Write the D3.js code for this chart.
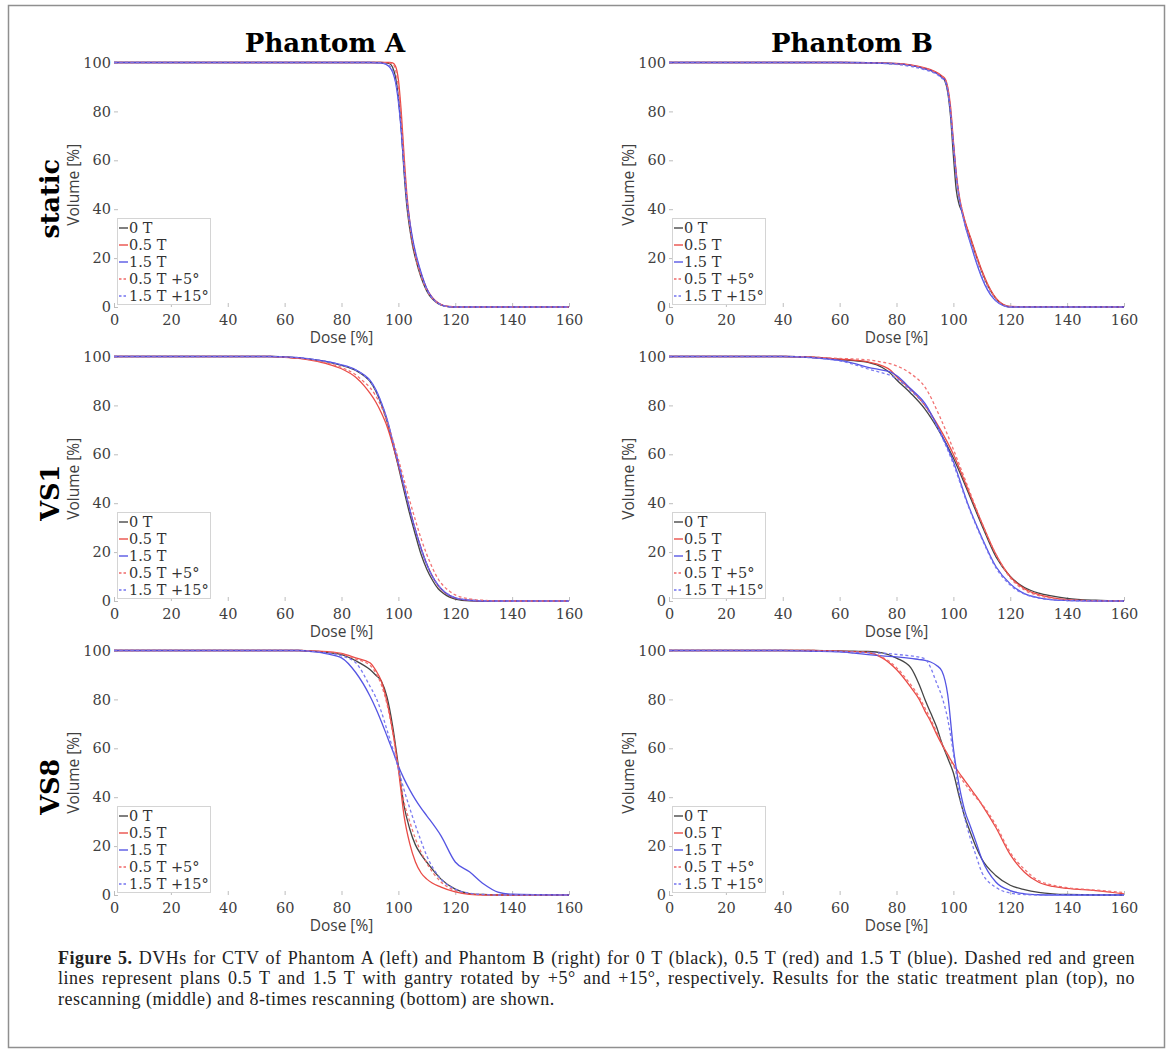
<!DOCTYPE html>
<html>
<head>
<meta charset="utf-8">
<script src="https://cdn.jsdelivr.net/npm/d3@7"></script>
<style>
  html, body { margin: 0; padding: 0; background: #fff; }
  svg { display: block; }
</style>
</head>
<body>
<div id="outer"></div>
<script>
////////// DATA //////////
const phantoms = ['Phantom A', 'Phantom B'];
const scenarios = ['static', 'VS1', 'VS8'];
const seriesNames = ['0 T', '0.5 T', '1.5 T', '0.5 T +5°', '1.5 T +15°'];
const doseTicks = [0, 20, 40, 60, 80, 100, 120, 140, 160];
const volumeTicks = [0, 20, 40, 60, 80, 100];

// static, Phantom A
const doseStaticA = [0, 90, 94, 96, 97, 98, 99, 100, 101, 102, 103, 104, 105, 106, 108, 110, 112, 114, 116, 118, 120, 160];
const staticA_0T = [100, 100, 100, 99.8, 99.5, 98, 94, 86, 73, 55, 41, 32, 25, 20, 12, 6.5, 3.2, 1.4, 0.5, 0.1, 0, 0];
const staticA_05T = [100, 100, 100, 100, 100, 99.8, 98.5, 93, 80, 62, 46, 35, 27, 21.5, 13.5, 7.5, 3.8, 1.7, 0.6, 0.2, 0, 0];
const staticA_15T = [100, 100, 99.8, 99, 98, 96, 92, 84, 72, 57, 44, 35, 28, 22.5, 14, 7.5, 3.6, 1.5, 0.5, 0.1, 0, 0];
const staticA_05T5 = [100, 100, 100, 99.9, 99.8, 99.5, 97, 90, 77, 59, 44, 33, 26, 20.5, 12.5, 6.8, 3.4, 1.5, 0.5, 0.1, 0, 0];
const staticA_15T15 = [100, 100, 99.9, 99.2, 98.5, 96.5, 92.5, 85, 73, 57, 43, 34, 27, 22, 13.5, 7.2, 3.5, 1.5, 0.5, 0.1, 0, 0];

// static, Phantom B
const doseStaticB = [0, 60, 70, 80, 85, 90, 93, 95, 96, 97, 98, 99, 100, 101, 102, 103, 104, 106, 108, 110, 112, 114, 116, 118, 120, 160];
const staticB_0T = [100, 100, 99.9, 99.5, 98.8, 97.5, 96.3, 95, 94, 92.5, 88, 78, 62, 48, 42, 39, 35, 28, 21, 14.5, 9, 5, 2.2, 0.7, 0.1, 0];
const staticB_05T = [100, 100, 99.9, 99.6, 99, 97.8, 96.6, 95.4, 94.5, 93.5, 90, 82, 68, 55, 46, 40, 35.5, 28.5, 21.5, 15, 9.5, 5.2, 2.4, 0.8, 0.2, 0];
const staticB_15T = [100, 100, 99.9, 99.5, 98.8, 97.4, 96.2, 94.8, 93.8, 93, 89, 80, 67, 54, 45, 39, 34, 26, 18.5, 12, 7, 3.6, 1.5, 0.4, 0, 0];
const staticB_05T5 = [100, 100, 99.9, 99.5, 98.9, 97.6, 96.4, 95.2, 94.2, 93.5, 89.5, 81, 67, 54, 45.5, 40, 35, 28, 21, 14.5, 9, 5, 2.2, 0.7, 0.1, 0];
const staticB_15T15 = [100, 100, 99.8, 99.2, 98.4, 97, 95.8, 94.5, 93.5, 92.5, 88.5, 79, 66, 53.5, 45, 39, 34, 26.5, 19, 12.5, 7.5, 3.8, 1.6, 0.5, 0, 0];

// VS1 (no rescanning), Phantom A
const doseVS1A = [0, 50, 55, 60, 65, 70, 75, 80, 85, 88, 90, 92, 94, 96, 98, 100, 102, 104, 106, 108, 110, 112, 114, 116, 118, 120, 125, 130, 135, 140, 160];
const vs1A_0T = [100, 100, 100, 99.8, 99.4, 98.7, 97.8, 96.4, 94.3, 92, 89.8, 86, 80.5, 73.5, 64.5, 55, 45, 35.5, 27, 19, 13, 8.5, 5, 3, 1.6, 0.8, 0.1, 0, 0, 0, 0];
const vs1A_05T = [100, 100, 100, 99.7, 99.2, 98.3, 97, 95, 91.5, 88, 85, 81.5, 77, 71.5, 64, 55.5, 46.5, 37.5, 29, 21.5, 15, 10, 6.2, 3.8, 2.2, 1.2, 0.3, 0, 0, 0, 0];
const vs1A_15T = [100, 100, 100, 99.8, 99.5, 98.8, 97.9, 96.6, 94.6, 92.4, 90.3, 86.6, 81.2, 74.5, 65.5, 56.5, 47, 37.5, 29, 21.5, 15, 10, 6.5, 4, 2.3, 1.3, 0.3, 0, 0, 0, 0];
const vs1A_05T5 = [100, 100, 100, 99.7, 99.3, 98.5, 97.3, 95.5, 92.5, 89.5, 87.3, 84, 79.5, 73.5, 66, 58, 49.5, 41, 33, 25.5, 19, 13.5, 9, 6, 4, 2.5, 0.9, 0.3, 0.05, 0, 0];
const vs1A_15T15 = [100, 100, 100, 99.8, 99.5, 98.8, 97.9, 96.5, 94.4, 92.2, 90, 86.3, 81, 74.2, 65.3, 56.2, 46.8, 37.5, 29, 21.5, 15, 10, 6.5, 4, 2.4, 1.4, 0.4, 0.1, 0, 0, 0];

// VS1 (no rescanning), Phantom B
const doseVS1B = [0, 40, 50, 60, 65, 70, 75, 78, 80, 85, 90, 95, 100, 105, 110, 115, 120, 125, 130, 135, 140, 150, 160];
const vs1B_0T = [100, 100, 99.7, 98.8, 98.3, 97.6, 95.5, 93, 90.5, 85, 78.5, 69.5, 58.5, 45, 31, 18, 10, 5.5, 3.2, 2, 1.1, 0.3, 0];
const vs1B_05T = [100, 100, 99.7, 98.9, 98.5, 97.8, 96.2, 94.3, 91.8, 86.5, 80, 71, 60, 46, 32, 19, 10, 5, 2.6, 1.3, 0.6, 0.1, 0];
const vs1B_15T = [100, 100, 99.6, 98.4, 97.2, 95.6, 94.4, 93.6, 92.2, 86.8, 80.8, 70, 57, 40, 26, 14, 7, 3, 1.3, 0.5, 0.2, 0, 0];
const vs1B_05T5 = [100, 100, 99.8, 99.2, 99, 98.6, 97.7, 97, 96.2, 93, 87.5, 76, 62, 47, 32, 19, 9.5, 4.5, 2.2, 1, 0.5, 0.1, 0];
const vs1B_15T15 = [100, 100, 99.5, 98.2, 96.8, 94.9, 93.3, 92.2, 91, 86, 80, 69.5, 56, 39.5, 25.5, 13.5, 6.5, 2.8, 1.2, 0.5, 0.2, 0, 0];

// VS8 (8-times rescanning), Phantom A
const doseVS8A = [0, 60, 65, 70, 75, 80, 85, 90, 92, 94, 96, 98, 100, 102, 104, 106, 108, 110, 115, 120, 125, 130, 135, 140, 150, 160];
const vs8A_0T = [100, 100, 100, 99.7, 99.2, 98.3, 95.8, 92.2, 90, 87.5, 81, 69, 52.8, 36.5, 27, 20.5, 16.5, 13.4, 6.5, 2.4, 0.6, 0.2, 0, 0, 0, 0];
const vs8A_05T = [100, 100, 100, 99.8, 99.5, 98.8, 97, 95, 92, 87.5, 79, 67, 51.5, 32.4, 21, 13.5, 9, 6.5, 3.2, 1.3, 0.3, 0, 0, 0, 0, 0];
const vs8A_15T = [100, 100, 100, 99.5, 98.6, 97, 91, 81.4, 76.5, 71, 65, 59, 52.8, 47.5, 43, 39, 35.5, 32.4, 24.2, 13.5, 9.5, 4.5, 1.2, 0.3, 0.1, 0];
const vs8A_05T5 = [100, 100, 100, 99.8, 99.4, 98.6, 96.5, 94, 91, 86, 78, 66.5, 51.5, 38, 30, 23, 17.5, 13, 5.3, 1.8, 0.5, 0.1, 0, 0, 0, 0];
const vs8A_15T15 = [100, 100, 100, 99.6, 99, 97.8, 95, 85.4, 81, 75, 67.5, 60, 51.5, 43, 35.5, 28.5, 22, 16, 6.5, 2.4, 0.7, 0.2, 0, 0, 0, 0];

// VS8 (8-times rescanning), Phantom B
const doseVS8B = [0, 40, 50, 60, 65, 70, 75, 80, 85, 88, 90, 92, 94, 96, 98, 100, 102, 104, 106, 108, 110, 115, 120, 125, 130, 135, 140, 150, 160];
const vs8B_0T = [100, 100, 100, 99.8, 99.7, 99.6, 99, 96.9, 93, 86, 80, 74.5, 69, 62, 56, 50, 40.5, 32, 25.5, 19.5, 14.7, 7.9, 4, 2.2, 1.1, 0.5, 0.2, 0, 0];
const vs8B_05T = [100, 100, 100, 99.7, 99.5, 99.1, 97, 92.2, 85, 80, 75.2, 71, 66, 61.5, 57.5, 53.5, 50, 46.8, 43.6, 40.4, 37, 27.5, 16.5, 9.3, 5.2, 3.5, 2.7, 1.8, 0.5];
const vs8B_15T = [100, 100, 99.7, 99.4, 98.9, 98.3, 97.8, 97.4, 96.8, 96.3, 96, 95.3, 94, 91.5, 82, 60, 45, 34.5, 28, 21.5, 14.7, 5.2, 1.8, 0.5, 0.1, 0, 0, 0, 0];
const vs8B_05T5 = [100, 100, 100, 99.7, 99.5, 99.3, 97.3, 93, 86, 81, 76.5, 72, 67, 62, 57, 52.8, 49, 45.6, 42.5, 39.8, 37.2, 28.5, 17.4, 10.5, 5.9, 4, 3, 2, 1];
const vs8B_15T15 = [100, 100, 99.8, 99.6, 99.3, 99.1, 98.9, 98.4, 97.8, 97.3, 96.6, 93, 87, 81, 72, 58, 42, 31.5, 23, 16, 9.3, 3.1, 0.8, 0.2, 0, 0, 0, 0, 0];

const captionLines = [
  ' DVHs for CTV of Phantom A (left) and Phantom B (right) for 0 T (black), 0.5 T (red) and 1.5 T (blue). Dashed red and green',
  'lines represent plans 0.5 T and 1.5 T with gantry rotated by +5° and +15°, respectively. Results for the static treatment plan (top), no',
  'rescanning (middle) and 8-times rescanning (bottom) are shown.'
];


////////// STYLE / LAYOUT //////////
const W = 1171, H = 1054;
const colLeft = [114, 669];
const rowTop = [62.5, 356.5, 650.5];
const plotW = 455, plotH = 244.5;
const titleX = [325, 852];

const seriesStyle = [
  { color: '#3a3a3a', dash: null },
  { color: '#e8413c', dash: null },
  { color: '#4b4be2', dash: null },
  { color: '#f06a6a', dash: '3,2.5' },
  { color: '#7474f0', dash: '3,2.5' }
];

const serif = '"DejaVu Serif", serif';
const sans = '"Open Sans", "Noto Sans", sans-serif';

const panels = [
  { row: 0, col: 0, dose: doseStaticA, vols: [staticA_0T, staticA_05T, staticA_15T, staticA_05T5, staticA_15T15] },
  { row: 0, col: 1, dose: doseStaticB, vols: [staticB_0T, staticB_05T, staticB_15T, staticB_05T5, staticB_15T15] },
  { row: 1, col: 0, dose: doseVS1A, vols: [vs1A_0T, vs1A_05T, vs1A_15T, vs1A_05T5, vs1A_15T15] },
  { row: 1, col: 1, dose: doseVS1B, vols: [vs1B_0T, vs1B_05T, vs1B_15T, vs1B_05T5, vs1B_15T15] },
  { row: 2, col: 0, dose: doseVS8A, vols: [vs8A_0T, vs8A_05T, vs8A_15T, vs8A_05T5, vs8A_15T15] },
  { row: 2, col: 1, dose: doseVS8B, vols: [vs8B_0T, vs8B_05T, vs8B_15T, vs8B_05T5, vs8B_15T15] }
];


////////// DRAW //////////
const svg = d3.select('#outer').append('svg')
  .attr('width', W)
  .attr('height', H);

svg.append('rect')
  .attr('width', W).attr('height', H)
  .attr('fill', '#fff');

// figure frame
svg.append('rect')
  .attr('x', 8.5).attr('y', 5.5)
  .attr('width', 1156).attr('height', 1042)
  .attr('fill', 'none')
  .attr('stroke', '#8f8f8f')
  .attr('stroke-width', 1.5);

const xScale = d3.scaleLinear().domain([0, 160]).range([0, plotW]);
const yScale = d3.scaleLinear().domain([0, 100]).range([plotH, 0]);

panels.forEach(p => {
  const g = svg.append('g')
    .attr('transform', `translate(${colLeft[p.col]},${rowTop[p.row]})`);

  // axes (MATLAB style: no axis line, small inward grey ticks)
  const xAxis = g.append('g')
    .attr('transform', `translate(0,${plotH})`)
    .call(d3.axisBottom(xScale).tickValues(doseTicks).tickSize(-4).tickPadding(8));
  const yAxis = g.append('g')
    .call(d3.axisLeft(yScale).tickValues(volumeTicks).tickSize(-4).tickPadding(3));

  [xAxis, yAxis].forEach(ax => {
    ax.select('.domain').remove();
    ax.selectAll('.tick line').attr('stroke', '#bdbdbd');
    ax.selectAll('.tick text')
      .attr('fill', '#404040')
      .style('font-family', serif)
      .style('font-size', '14.5px');
  });

  // axis labels
  g.append('text')
    .attr('x', plotW / 2)
    .attr('y', plotH + 36)
    .attr('text-anchor', 'middle')
    .attr('fill', '#404040')
    .style('font-family', sans)
    .style('font-size', '15.5px')
    .text('Dose [%]');

  g.append('text')
    .attr('transform', `translate(-35,${plotH / 2}) rotate(-90)`)
    .attr('text-anchor', 'middle')
    .attr('fill', '#404040')
    .style('font-family', sans)
    .style('font-size', '15.5px')
    .text('Volume [%]');

  // DVH curves
  const line = d3.line()
    .x((d, i) => xScale(p.dose[i]))
    .y(d => yScale(d))
    .curve(d3.curveMonotoneX);

  p.vols.forEach((vals, k) => {
    g.append('path')
      .datum(vals)
      .attr('d', line)
      .attr('fill', 'none')
      .attr('stroke', seriesStyle[k].color)
      .attr('stroke-width', 1.3)
      .attr('stroke-opacity', 0.95)
      .attr('stroke-dasharray', seriesStyle[k].dash);
  });

  // legend
  const leg = g.append('g')
    .attr('transform', `translate(3,${plotH - 89})`);
  leg.append('rect')
    .attr('x', 0.5).attr('y', 0.5)
    .attr('width', 93).attr('height', 86)
    .attr('fill', '#fff')
    .attr('stroke', '#d4d4d4')
    .attr('stroke-width', 1);
  seriesNames.forEach((name, k) => {
    const ly = 10 + k * 17;
    leg.append('line')
      .attr('x1', 2).attr('x2', 11)
      .attr('y1', ly).attr('y2', ly)
      .attr('stroke', seriesStyle[k].color)
      .attr('stroke-width', 1.3)
      .attr('stroke-dasharray', seriesStyle[k].dash ? '2.5,2' : null);
    leg.append('text')
      .attr('x', 12)
      .attr('y', ly)
      .attr('dy', '0.36em')
      .attr('fill', '#333')
      .style('font-family', serif)
      .style('font-size', '14.5px')
      .text(name);
  });
});

// column titles
phantoms.forEach((t, c) => {
  svg.append('text')
    .attr('x', titleX[c])
    .attr('y', 52)
    .attr('text-anchor', 'middle')
    .attr('fill', '#000')
    .style('font-family', serif)
    .style('font-weight', 'bold')
    .style('font-size', '26px')
    .text(t);
});

// row labels
scenarios.forEach((t, r) => {
  svg.append('text')
    .attr('transform', `translate(59,${rowTop[r] + plotH / 2 + 14}) rotate(-90)`)
    .attr('text-anchor', 'middle')
    .attr('fill', '#000')
    .style('font-family', serif)
    .style('font-weight', 'bold')
    .style('font-size', '25.5px')
    .text(t);
});

// caption
const capX = 58, capRight = 1135;
const capBase = [963.5, 984, 1004.5];
captionLines.forEach((txt, i) => {
  const t = svg.append('text')
    .attr('x', capX)
    .attr('y', capBase[i])
    .attr('fill', '#222')
    .attr('letter-spacing', 0.5)
    .style('font-family', '"Liberation Serif", serif')
    .style('font-size', '18px');
  if (i === 0) {
    t.append('tspan').style('font-weight', 'bold').text('Figure 5.');
  }
  t.append('tspan').text(txt);
  // justify first two lines like the printed caption
  if (i < 2) {
    const natural = t.node().getComputedTextLength();
    const spaces = (txt.match(/ /g) || []).length + (i === 0 ? 1 : 0);
    const extra = Math.max(0, (capRight - capX - natural) / spaces);
    t.attr('word-spacing', extra);
  }
});
</script>
</body>
</html>
